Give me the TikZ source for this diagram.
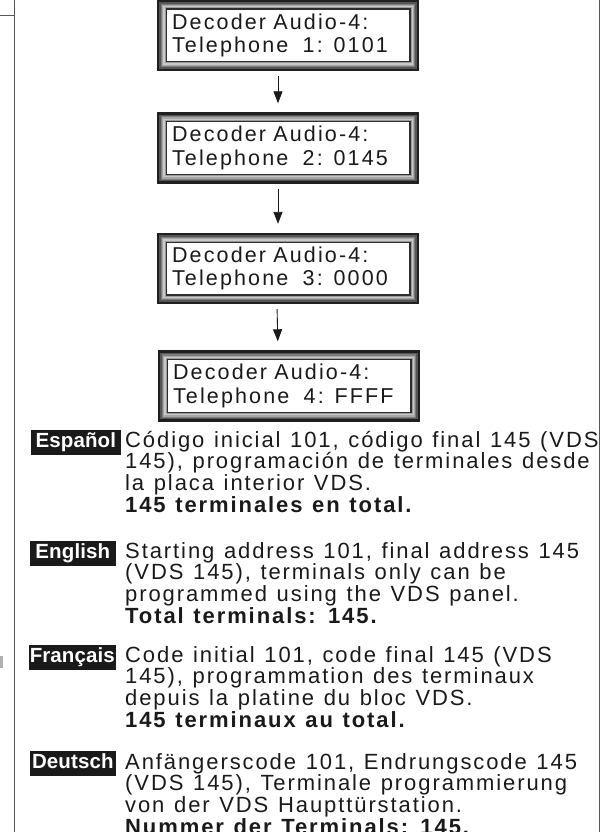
\documentclass[tikz,border=0pt]{standalone}
\usepackage{fontspec}
\setmainfont{Liberation Sans}
\newfontfamily\lcdfont[LetterSpace=10,WordSpace=1.2]{Liberation Sans}
\newfontfamily\bodyfont[LetterSpace=8.7,WordSpace=1.2]{Liberation Sans}
\newfontfamily\tagfont[LetterSpace=0.5]{Liberation Sans}
\usetikzlibrary{arrows.meta,backgrounds}

\definecolor{ink}{HTML}{1A1A1A}
\definecolor{rulegray}{HTML}{555555}
\definecolor{tickgray}{HTML}{B0B0B0}
\definecolor{bevA}{HTML}{1F1F1F}
\definecolor{bevB}{HTML}{555555}
\definecolor{bevC}{HTML}{7D7D7D}
\definecolor{bevD}{HTML}{A6A6A6}
\definecolor{bevE}{HTML}{C8C8C8}
\definecolor{bevF}{HTML}{9A9A9A}
\definecolor{bevG}{HTML}{2E2E2E}

% bevelled display frame drawn as nested fills around a named node
\newcommand\lcdframe[1]{%
  \foreach \d/\c in {0/bevA,2.4/bevB,3.8/bevC,5.2/bevD,6.5/bevE,7.7/bevF,8.7/bevG,9.8/white}
    \fill[\c] ([shift={(\d,\d)}]#1.north west) rectangle ([shift={(-\d,-\d)}]#1.south east);}

\begin{document}
\begin{tikzpicture}[x=1pt,y=-1pt,
  pagerule/.style={draw=rulegray,line width=0.9pt},
  lcd/.style={minimum width=262pt,minimum height=71pt,text width=232pt,
    inner xsep=15pt,inner ysep=0pt,align=left,text=ink,
    font=\lcdfont\fontsize{21.5}{23.5}\selectfont},
  link/.style={draw=ink,line width=0.9pt,-{Triangle[length=12pt,width=9pt]},
    shorten <=5pt,shorten >=9pt},
  langtag/.style={fill=ink,text=white,anchor=base east,inner xsep=1pt,inner ysep=0pt,
    text height=17.5pt,text depth=8pt,minimum width=86pt,
    font=\tagfont\bfseries\fontsize{20.5}{22}\selectfont},
  body/.style={anchor=base west,align=left,inner sep=0pt,text=ink,
    font=\bodyfont\fontsize{22}{21.8}\selectfont}]

\useasboundingbox (0,0) rectangle (604,832);
\clip (0,0) rectangle (604,832);

% page rules
\draw[pagerule] (0,15) -- (14,15);
\draw[pagerule] (14,0) -- (14,832);
\draw[pagerule] (599,0) -- (599,832);
\fill[tickgray] (0,656) rectangle (2.5,668);

% display screens
\node[lcd] (b1) at (288,35.5) {Decoder Audio-4:\\Telephone\ \ 1: 0101};
\node[lcd] (b2) at (288,148) {Decoder Audio-4:\\Telephone\ \ 2: 0145};
\node[lcd] (b3) at (288,268.5) {Decoder Audio-4:\\Telephone\ \ 3: 0000};
\node[lcd] (b4) at (289,386) {Decoder Audio-4:\\Telephone\ \ 4: FFFF};

\begin{scope}[on background layer]
  \lcdframe{b1}
  \lcdframe{b2}
  \lcdframe{b3}
  \lcdframe{b4}
\end{scope}

\draw[link] ([xshift=-10pt]b1.south) -- ([xshift=-10pt]b2.north);
\draw[link] ([xshift=-10pt]b2.south) -- ([xshift=-10pt]b3.north);
\draw[link] ([xshift=-11pt]b3.south) -- ([xshift=-11pt]b4.north);

% language notes (the base anchor of a multi-line node sits on its last line)
\node[langtag,minimum width=90pt] (esTag) at (121,447) {Español};
\node[body] (esText) at (125,512.4) {Código inicial 101, código final 145 (VDS\\145), programación de terminales desde\\la placa interior VDS.\\\textbf{145 terminales en total.}};

\node[langtag] (enTag) at (116,558) {English};
\node[body] (enText) at (125,623.4) {Starting address 101, final address 145\\(VDS 145), terminals only can be\\programmed using the VDS panel.\\\textbf{Total terminals: 145.}};

\node[langtag] (frTag) at (116,662) {Français};
\node[body] (frText) at (125,727.4) {Code initial 101, code final 145 (VDS\\145), programmation des terminaux\\depuis la platine du bloc VDS.\\\textbf{145 terminaux au total.}};

\node[langtag] (deTag) at (116,768) {Deutsch};
\node[body] (deText) at (125,834.4) {Anfängerscode 101, Endrungscode 145\\(VDS 145), Terminale programmierung\\von der VDS Haupttürstation.\\\textbf{Nummer der Terminals: 145.}};
\end{tikzpicture}
\end{document}
